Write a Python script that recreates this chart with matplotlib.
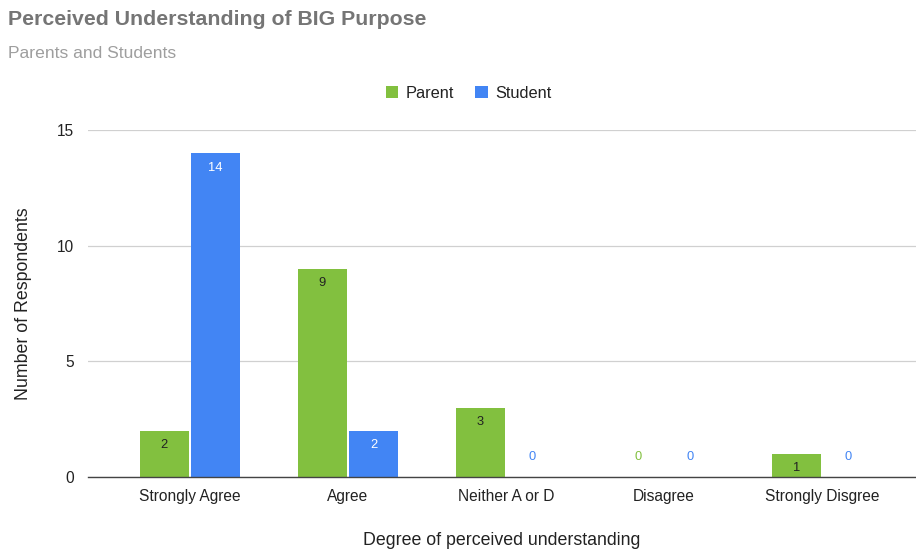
import numpy as np
import matplotlib.pyplot as plt

categories = ["Strongly Agree", "Agree", "Neither A or D", "Disagree", "Strongly Disgree"]
parent = [2, 9, 3, 0, 1]
student = [14, 2, 0, 0, 0]

green = "#82c03f"
blue = "#4285f4"

plt.rcParams["font.family"] = ["Liberation Sans", "DejaVu Sans"]

fig = plt.figure(figsize=(9.16, 5.52), dpi=100)
ax = fig.add_axes([0.096, 0.136, 0.904, 0.628])

x = np.arange(len(categories))
w = 0.31
gap = 0.008
bp = ax.bar(x - w / 2 - gap, parent, w, color=green, label="Parent", zorder=3)
bs = ax.bar(x + w / 2 + gap, student, w, color=blue, label="Student", zorder=3)

# value labels: inside the top of each bar, or above the baseline for zeros
for bars, vals, inside, color in [(bp, parent, "#222222", green), (bs, student, "white", blue)]:
    for b, v in zip(bars, vals):
        cx = b.get_x() + b.get_width() / 2
        if v > 0:
            ax.annotate(str(v), (cx, v), xytext=(0, -6), textcoords="offset points",
                        ha="center", va="top", fontsize=9.3, color=inside, zorder=4)
        else:
            ax.annotate(str(v), (cx, 0), xytext=(0, 14.5), textcoords="offset points",
                        ha="center", va="center", fontsize=9.3, color=color, zorder=4)

ax.set_xlim(-0.645, 4.595)
ax.set_ylim(0, 15)
ax.set_yticks([0, 5, 10, 15])
ax.set_xticks(x)
ax.set_xticklabels(categories)
ax.tick_params(axis="both", length=0, labelsize=11.2, colors="#222222")
ax.tick_params(axis="y", pad=10)
ax.tick_params(axis="x", pad=9)
ax.grid(axis="y", color="#d0d0d0", linewidth=0.9, zorder=0)
for s in ["top", "right", "left"]:
    ax.spines[s].set_visible(False)
ax.spines["bottom"].set_color("#444444")
ax.spines["bottom"].set_linewidth(1.0)
ax.spines["bottom"].set_zorder(5)

ax.set_xlabel("Degree of perceived understanding", fontsize=12.8, color="#222222", labelpad=20)
ax.set_ylabel("Number of Respondents", fontsize=12.8, color="#222222", labelpad=18)

fig.text(0.009, 0.964, "Perceived Understanding of BIG Purpose", fontsize=15.3,
         fontweight="bold", color="#757575", va="center")
fig.text(0.009, 0.903, "Parents and Students", fontsize=12.6, color="#9e9e9e", va="center")

leg = fig.legend(handles=[bp, bs], loc="center", bbox_to_anchor=(0.5115, 0.831), ncol=2,
                 frameon=False, fontsize=11.8, handlelength=0.75, handleheight=0.75,
                 handletextpad=0.45, columnspacing=1.3)
for t in leg.get_texts():
    t.set_color("#222222")

fig.savefig("out.png", dpi=100)
